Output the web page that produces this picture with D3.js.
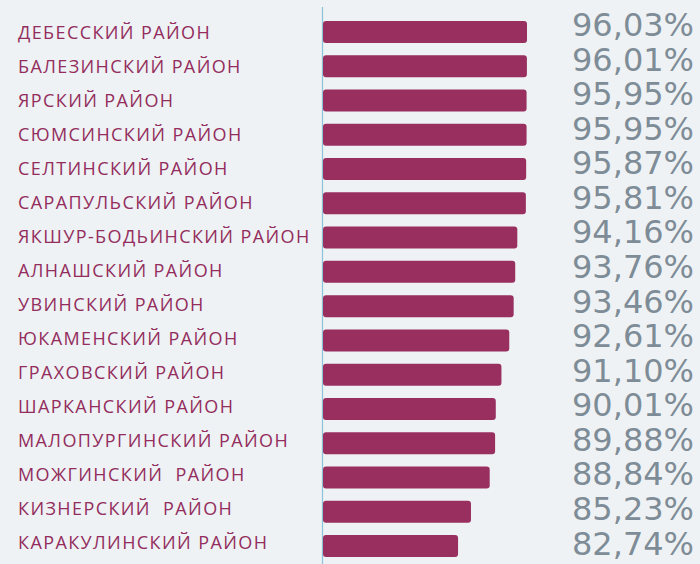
<!DOCTYPE html>
<html>
<head>
<meta charset="utf-8">
<script src="https://cdn.jsdelivr.net/npm/d3@7"></script>
<style>
  html, body { margin: 0; padding: 0; background: #eef2f4; }
  svg { display: block; }
</style>
</head>
<body>
<svg id="chart" width="700" height="564"></svg>
<script>
// Районы и доля (%) — по убыванию
const regions = [
  "ДЕБЕССКИЙ РАЙОН",
  "БАЛЕЗИНСКИЙ РАЙОН",
  "ЯРСКИЙ РАЙОН",
  "СЮМСИНСКИЙ РАЙОН",
  "СЕЛТИНСКИЙ РАЙОН",
  "САРАПУЛЬСКИЙ РАЙОН",
  "ЯКШУР-БОДЬИНСКИЙ РАЙОН",
  "АЛНАШСКИЙ РАЙОН",
  "УВИНСКИЙ РАЙОН",
  "ЮКАМЕНСКИЙ РАЙОН",
  "ГРАХОВСКИЙ РАЙОН",
  "ШАРКАНСКИЙ РАЙОН",
  "МАЛОПУРГИНСКИЙ РАЙОН",
  "МОЖГИНСКИЙ  РАЙОН",
  "КИЗНЕРСКИЙ  РАЙОН",
  "КАРАКУЛИНСКИЙ РАЙОН"
];
const shares = [96.03, 96.01, 95.95, 95.95, 95.87, 95.81, 94.16, 93.76, 93.46, 92.61, 91.10, 90.01, 89.88, 88.84, 85.23, 82.74];

const W = 700, H = 564;
const svg = d3.select("#chart");

const x = d3.scaleLinear().domain([56.7, 96.03]).range([323, 527]);
const yBar = d3.scalePoint().domain(regions).range([32, 546]);
const yLabel = d3.scalePoint().domain(regions).range([33, 543]);
const yValue = d3.scalePoint().domain(regions).range([24.5, 543]);
const barH = 22;

const fmt = v => d3.format(".2f")(v).replace(".", ",") + "%";

// вертикальная ось
svg.append("line")
  .attr("x1", 322.5).attr("x2", 322.5)
  .attr("y1", 7).attr("y2", H)
  .attr("stroke", "#8cc3d6").attr("stroke-width", 1.2);

// столбцы
svg.append("g").selectAll("rect")
  .data(regions)
  .join("rect")
  .attr("x", x.range()[0])
  .attr("y", d => yBar(d) - barH / 2)
  .attr("width", (d, i) => x(shares[i]) - x.range()[0])
  .attr("height", barH)
  .attr("rx", 3).attr("ry", 3)
  .attr("fill", "#982f5f");

// подписи районов
svg.append("g").selectAll("text")
  .data(regions)
  .join("text")
  .attr("x", 18)
  .attr("y", d => yLabel(d))
  .attr("dy", "0.36em")
  .attr("font-family", "'Open Sans', Lato, sans-serif")
  .attr("font-size", 18)
  .attr("letter-spacing", 1.4)
  .attr("fill", "#932d5d")
  .attr("xml:space", "preserve")
  .style("white-space", "pre")
  .text(d => d);

// значения
svg.append("g").selectAll("text")
  .data(regions)
  .join("text")
  .attr("x", 694)
  .attr("y", d => yValue(d))
  .attr("dy", "0.36em")
  .attr("text-anchor", "end")
  .attr("font-family", "'DejaVu Sans', Verdana, sans-serif")
  .attr("font-size", 32)
  .attr("fill", "#7e8c97")
  .text((d, i) => fmt(shares[i]));
</script>
</body>
</html>
